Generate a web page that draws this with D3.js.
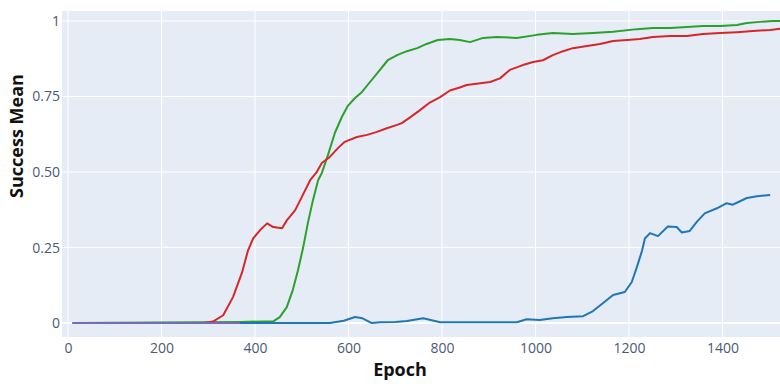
<!DOCTYPE html>
<html>
<head>
<meta charset="utf-8">
<script src="https://cdn.jsdelivr.net/npm/d3@7"></script>
<style>
  html, body { margin: 0; padding: 0; background: #fff; }
  svg { display: block; }
  .tick text { font-family: "Open Sans", sans-serif; font-size: 14px; fill: #4a5a76; }
</style>
</head>
<body>
<svg id="chart" width="780" height="384"></svg>
<script>
// Success mean per training epoch for four runs
const blueEpochs = [10, 560, 590, 614, 630, 650, 667, 700, 725, 760, 796, 850, 960, 981, 1009, 1037, 1067, 1102, 1123, 1144, 1166, 1191, 1206, 1217, 1228, 1234, 1245, 1262, 1283, 1302, 1313, 1330, 1345, 1362, 1388, 1409, 1422, 1433, 1452, 1474, 1502];
const blueValues = [0, 0, 0.008, 0.02, 0.016, 0.0, 0.003, 0.004, 0.007, 0.016, 0.003, 0.003, 0.003, 0.013, 0.01, 0.016, 0.02, 0.023, 0.04, 0.066, 0.093, 0.103, 0.136, 0.186, 0.24, 0.28, 0.298, 0.288, 0.32, 0.318, 0.30, 0.305, 0.335, 0.363, 0.38, 0.397, 0.392, 0.40, 0.414, 0.42, 0.424];

const greenEpochs = [10, 370, 439, 453, 468, 481, 492, 503, 513, 524, 535, 543, 556, 571, 586, 599, 614, 629, 646, 663, 684, 704, 725, 747, 767, 791, 817, 838, 860, 888, 917, 960, 1003, 1037, 1080, 1123, 1166, 1217, 1251, 1288, 1324, 1358, 1395, 1431, 1452, 1480, 1508, 1523];
const greenValues = [0, 0.004, 0.006, 0.02, 0.053, 0.11, 0.175, 0.25, 0.33, 0.407, 0.473, 0.497, 0.556, 0.63, 0.683, 0.72, 0.745, 0.765, 0.798, 0.83, 0.87, 0.887, 0.90, 0.91, 0.924, 0.937, 0.94, 0.937, 0.93, 0.944, 0.947, 0.944, 0.954, 0.96, 0.957, 0.96, 0.964, 0.973, 0.977, 0.977, 0.98, 0.983, 0.983, 0.987, 0.993, 0.997, 1.0, 1.0];

const redEpochs = [10, 290, 310, 332, 353, 372, 385, 396, 411, 426, 439, 458, 468, 486, 500, 518, 532, 543, 560, 578, 592, 618, 640, 661, 682, 704, 714, 731, 753, 774, 796, 817, 838, 853, 903, 924, 945, 973, 995, 1016, 1037, 1059, 1080, 1110, 1138, 1166, 1196, 1223, 1251, 1288, 1324, 1358, 1395, 1431, 1465, 1502, 1523];
const redValues = [0, 0, 0.005, 0.026, 0.086, 0.166, 0.24, 0.28, 0.308, 0.33, 0.318, 0.314, 0.34, 0.374, 0.417, 0.473, 0.50, 0.53, 0.55, 0.58, 0.60, 0.616, 0.623, 0.633, 0.645, 0.656, 0.662, 0.68, 0.705, 0.73, 0.748, 0.77, 0.78, 0.788, 0.798, 0.81, 0.838, 0.854, 0.864, 0.87, 0.887, 0.90, 0.91, 0.917, 0.924, 0.934, 0.937, 0.94, 0.947, 0.95, 0.95, 0.957, 0.96, 0.963, 0.967, 0.97, 0.974];

const purpleEpochs = [10, 368];
const purpleValues = [0, 0];

const xTicks = [0, 200, 400, 600, 800, 1000, 1200, 1400];
const yTicks = [0, 0.25, 0.5, 0.75, 1];
const yTickLabels = ["0", "0.25", "0.50", "0.75", "1"];

const series = [
  { epochs: greenEpochs, values: greenValues, color: "#2ca02c", opacity: 1 },
  { epochs: redEpochs, values: redValues, color: "#d62728", opacity: 1 },
  { epochs: blueEpochs, values: blueValues, color: "#1f77b4", opacity: 1 },
  { epochs: purpleEpochs, values: purpleValues, color: "#9467bd", opacity: 0.75 }
];

const svg = d3.select("#chart");
const plot = { left: 62, right: 780, top: 11, bottom: 337 };

const x = d3.scaleLinear().domain([-12.8, 1523]).range([plot.left, plot.right]);
const y = d3.scaleLinear().domain([-0.046, 1.033]).range([plot.bottom, plot.top]);

// plot background
svg.append("rect")
  .attr("x", plot.left).attr("y", plot.top)
  .attr("width", plot.right - plot.left).attr("height", plot.bottom - plot.top)
  .attr("fill", "#e5ecf6");

// grid lines
const grid = svg.append("g");
grid.selectAll("line.vx").data(xTicks).join("line")
  .attr("x1", d => x(d)).attr("x2", d => x(d))
  .attr("y1", plot.top).attr("y2", plot.bottom)
  .attr("stroke", "#fff").attr("stroke-width", 1);
grid.selectAll("line.hy").data(yTicks).join("line")
  .attr("x1", plot.left).attr("x2", plot.right)
  .attr("y1", d => y(d)).attr("y2", d => y(d))
  .attr("stroke", "#fff").attr("stroke-width", d => d === 0 ? 2 : 1);

// axes (labels only)
const xAxis = svg.append("g")
  .attr("transform", `translate(0,${plot.bottom})`)
  .call(d3.axisBottom(x).tickValues(xTicks).tickSize(0).tickPadding(6).tickFormat(d3.format("d")));
xAxis.select(".domain").remove();

const yAxis = svg.append("g")
  .attr("transform", `translate(${plot.left},0)`)
  .call(d3.axisLeft(y).tickValues(yTicks).tickSize(0).tickPadding(2)
    .tickFormat((d, i) => yTickLabels[i]));
yAxis.select(".domain").remove();

// lines
const line = d3.line()
  .x(d => x(d[0]))
  .y(d => y(d[1]));

svg.append("g").selectAll("path").data(series).join("path")
  .attr("d", s => line(s.epochs.map((e, i) => [e, s.values[i]])))
  .attr("fill", "none")
  .attr("stroke", s => s.color)
  .attr("stroke-opacity", s => s.opacity)
  .attr("stroke-width", 2)
  .attr("stroke-linejoin", "round");

// axis titles
svg.append("text")
  .attr("x", 400).attr("y", 376)
  .attr("text-anchor", "middle")
  .attr("font-family", "Open Sans, sans-serif")
  .attr("font-size", 18).attr("font-weight", "bold")
  .attr("fill", "#111")
  .text("Epoch");

svg.append("text")
  .attr("transform", "translate(23,136) rotate(-90)")
  .attr("text-anchor", "middle")
  .attr("font-family", "Open Sans, sans-serif")
  .attr("font-size", 18).attr("font-weight", "bold")
  .attr("fill", "#111")
  .text("Success Mean");
</script>
</body>
</html>
